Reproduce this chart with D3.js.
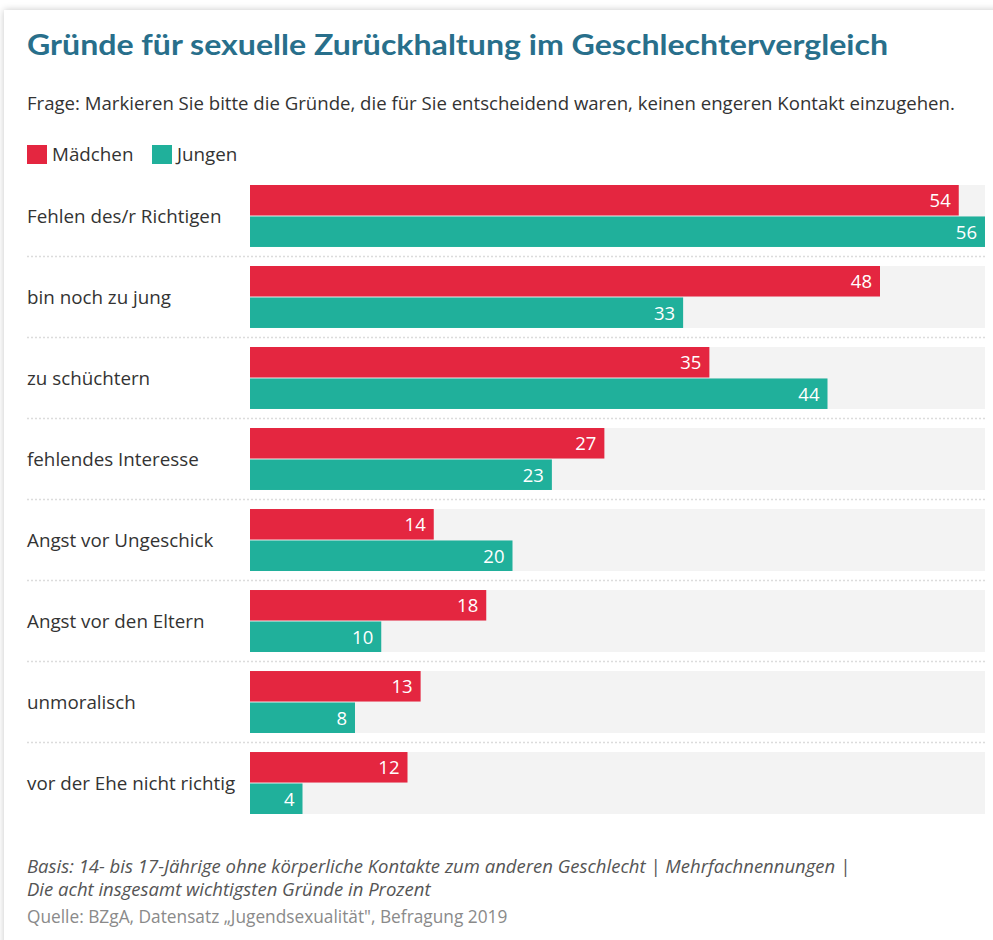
<!DOCTYPE html>
<html>
<head>
<meta charset="utf-8">
<script src="https://cdn.jsdelivr.net/npm/d3@7"></script>
<style>
  html, body { margin: 0; padding: 0; background: #fff; overflow: hidden; }
  #card {
    position: absolute; left: 4px; top: 10px; width: 1010px; height: 960px;
    background: #fff; box-shadow: 0 0 7px rgba(0,0,0,0.22);
  }
  svg { position: absolute; left: 0; top: 0; }
  text { font-family: "Open Sans", Lato, sans-serif; }
</style>
</head>
<body>
<div id="card"></div>
<svg id="chart" width="993" height="940"></svg>
<script>
const categories = [
  "Fehlen des/r Richtigen",
  "bin noch zu jung",
  "zu schüchtern",
  "fehlendes Interesse",
  "Angst vor Ungeschick",
  "Angst vor den Eltern",
  "unmoralisch",
  "vor der Ehe nicht richtig"
];
const maedchen = [54, 48, 35, 27, 14, 18, 13, 12];
const jungen = [56, 33, 44, 23, 20, 10, 8, 4];
const seriesNames = ["Mädchen", "Jungen"];
const colors = ["#e42640", "#20b09b"];

const svg = d3.select("#chart");

const x = d3.scaleLinear().domain([0, 56]).range([250, 985]);
const y = d3.scaleBand().domain(categories).range([185, 814]).paddingInner(0.235).paddingOuter(0);
const sub = d3.scaleBand().domain(seriesNames).range([0, y.bandwidth()]).paddingInner(0.03);

// title + question
svg.append("text").attr("x", 27).attr("y", 55)
  .attr("fill", "#286f8b").attr("font-size", 28).attr("font-weight", 700)
  .style("font-family", "Lato, sans-serif")
  .attr("textLength", 861).attr("lengthAdjust", "spacingAndGlyphs")
  .text("Gründe für sexuelle Zurückhaltung im Geschlechtervergleich");
svg.append("text").attr("x", 27).attr("y", 110)
  .attr("fill", "#333").attr("font-size", 18.6)
  .text("Frage: Markieren Sie bitte die Gründe, die für Sie entscheidend waren, keinen engeren Kontakt einzugehen.");

// legend
const legend = svg.append("g").attr("transform", "translate(27,145)");
const legX = [0, 125];
seriesNames.forEach((s, i) => {
  const g = legend.append("g").attr("transform", `translate(${legX[i]},0)`);
  g.append("rect").attr("width", 20).attr("height", 19).attr("fill", colors[i]);
  g.append("text").attr("x", 25).attr("y", 16).attr("font-size", 18.8).attr("fill", "#333").text(s);
});

// rows
const rows = svg.append("g").selectAll("g").data(categories).join("g")
  .attr("transform", d => `translate(0,${y(d)})`);

rows.append("rect").attr("x", x(0)).attr("width", x(56) - x(0))
  .attr("height", y.bandwidth()).attr("fill", "#f3f3f3");

rows.append("text").attr("x", 27).attr("y", y.bandwidth() / 2 + 7)
  .attr("font-size", 18.8).attr("fill", "#333").text(d => d);

// separators between rows
const sepY = d => y(d) + y.bandwidth() + (y.step() - y.bandwidth()) / 2;
svg.append("g").selectAll("line").data(categories.slice(0, -1)).join("line")
  .attr("x1", 27).attr("x2", 985)
  .attr("y1", sepY).attr("y2", sepY)
  .attr("stroke", "#dcdcdc").attr("stroke-width", 1.5).attr("stroke-dasharray", "2,2");

const barData = categories.flatMap((c, i) => [
  { c, s: seriesNames[0], v: maedchen[i], col: colors[0] },
  { c, s: seriesNames[1], v: jungen[i], col: colors[1] }
]);

const bars = svg.append("g").selectAll("g").data(barData).join("g")
  .attr("transform", d => `translate(0,${y(d.c) + sub(d.s)})`);

bars.append("rect").attr("x", x(0)).attr("width", d => x(d.v) - x(0))
  .attr("height", sub.bandwidth()).attr("fill", d => d.col);

bars.append("text").attr("x", d => x(d.v) - 8).attr("y", sub.bandwidth() / 2 + 7)
  .attr("text-anchor", "end").attr("font-size", 18.5).attr("fill", "#fff")
  .text(d => d.v);

// footer
svg.append("text").attr("x", 27).attr("y", 873).attr("font-size", 18.5).attr("font-style", "italic")
  .attr("fill", "#555").text("Basis: 14- bis 17-Jährige ohne körperliche Kontakte zum anderen Geschlecht | Mehrfachnennungen |");
svg.append("text").attr("x", 27).attr("y", 896).attr("font-size", 18.5).attr("font-style", "italic")
  .attr("fill", "#555").text("Die acht insgesamt wichtigsten Gründe in Prozent");
svg.append("text").attr("x", 27).attr("y", 923).attr("font-size", 17.3)
  .attr("fill", "#8a8a8a").text("Quelle: BZgA, Datensatz „Jugendsexualität\", Befragung 2019");
</script>
</body>
</html>
